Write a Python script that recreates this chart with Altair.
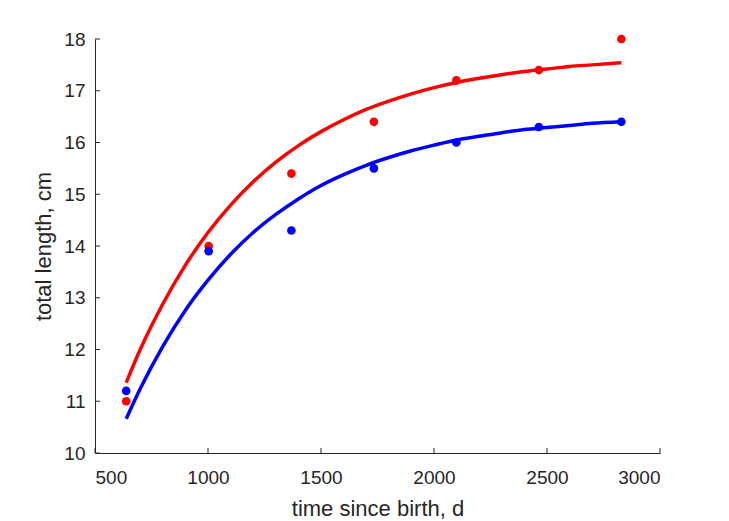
import altair as alt
import pandas as pd

# observed data
x_pts = [638, 1003, 1369, 1734, 2099, 2464, 2829]
red_pts = [11.0, 14.0, 15.4, 16.4, 17.2, 17.4, 18.0]
blue_pts = [11.2, 13.9, 14.3, 15.5, 16.0, 16.3, 16.4]

# fitted curves
curve_x = [638, 700, 800, 900, 1000, 1100, 1200, 1300, 1400, 1500, 1600, 1700,
           1800, 1900, 2000, 2100, 2200, 2300, 2400, 2500, 2600, 2700, 2829]
red_fit = [11.36, 12.00, 12.88, 13.63, 14.26, 14.79, 15.24, 15.62, 15.94, 16.21,
           16.44, 16.64, 16.80, 16.94, 17.06, 17.16, 17.24, 17.31, 17.37, 17.42,
           17.47, 17.50, 17.54]
blue_fit = [10.66, 11.24, 12.06, 12.76, 13.34, 13.84, 14.26, 14.61, 14.91, 15.17,
            15.38, 15.56, 15.71, 15.84, 15.95, 16.05, 16.12, 16.19, 16.25, 16.29,
            16.33, 16.37, 16.40]

x_ticks = [500, 1000, 1500, 2000, 2500, 3000]
y_ticks = [10, 11, 12, 13, 14, 15, 16, 17, 18]

W, H = 565, 414
AX = "#262626"
FONT = "Liberation Sans"

pts_red = pd.DataFrame({"t": x_pts, "L": red_pts})
pts_blue = pd.DataFrame({"t": x_pts, "L": blue_pts})
fit_red = pd.DataFrame({"t": curve_x, "L": red_fit})
fit_blue = pd.DataFrame({"t": curve_x, "L": blue_fit})
xt = pd.DataFrame({"t": x_ticks})
yt = pd.DataFrame({"L": y_ticks})

xscale = alt.Scale(domain=[500, 3000], nice=False, zero=False)
yscale = alt.Scale(domain=[10, 18], nice=False, zero=False)

xaxis = alt.Axis(values=x_ticks, format="d", labelPadding=15,
                 title="time since birth, d", titleY=62, titleX=W / 2)
yaxis = alt.Axis(values=y_ticks, format="d", labelPadding=10,
                 title="total length, cm", titleX=-45, titleY=H / 2)

X = alt.X("t:Q", scale=xscale, axis=xaxis)
Y = alt.Y("L:Q", scale=yscale, axis=yaxis)

red_points = alt.Chart(pts_red).mark_circle(size=75, color="#FF0000", opacity=1).encode(x=X, y=Y)
blue_points = alt.Chart(pts_blue).mark_circle(size=75, color="#0000FF", opacity=1).encode(x=X, y=Y)
red_line = alt.Chart(fit_red).mark_line(color="#FF0000", strokeWidth=3.5,
                                        interpolate="monotone").encode(x=X, y=Y)
blue_line = alt.Chart(fit_blue).mark_line(color="#0000FF", strokeWidth=3.5,
                                          interpolate="monotone").encode(x=X, y=Y)

xticks = alt.Chart(xt).mark_rule(color=AX, strokeWidth=1).encode(
    x=X, y=alt.value(H - 5), y2=alt.value(H))
yticks = alt.Chart(yt).mark_rule(color=AX, strokeWidth=1).encode(
    y=Y, x=alt.value(0), x2=alt.value(5))

chart = alt.layer(red_points, blue_points, red_line, blue_line, xticks, yticks).properties(
    width=W, height=H,
    autosize=alt.AutoSizeParams(type="none"),
    padding={"left": 95, "top": 39, "right": 729 - 95 - W, "bottom": 521 - 39 - H},
    background="white",
).configure_view(stroke=None).configure_axis(
    ticks=False, grid=False, domainColor=AX, domainWidth=1,
    labelColor=AX, labelFont=FONT, labelFontSize=19,
    titleFont=FONT, titleFontSize=22, titleFontWeight="normal", titleColor=AX,
    titleBaseline="alphabetic",
)

chart.save("out.html", embed_options={"renderer": "svg", "actions": False})
